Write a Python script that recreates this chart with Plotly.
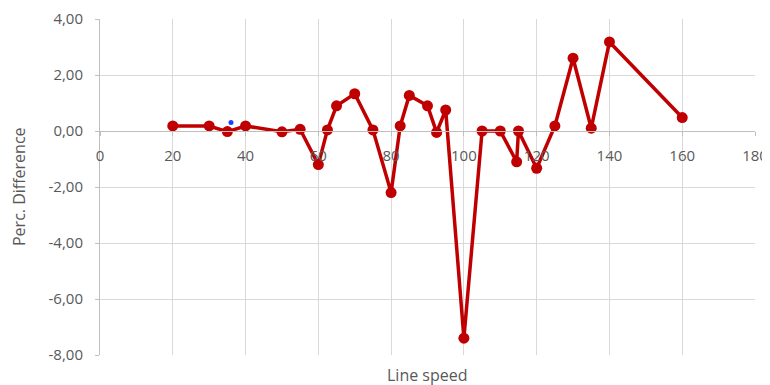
import plotly.graph_objects as go

line_speed = [20, 30, 35, 40, 50, 55, 60, 62.5, 65, 70, 75, 80, 82.5, 85, 90, 92.5, 95, 100,
              105, 110, 114.5, 115, 120, 125, 130, 135, 140, 160]
perc_diff = [0.18, 0.18, -0.02, 0.18, -0.03, 0.06, -1.2, 0.04, 0.9, 1.33, 0.04, -2.2, 0.18, 1.27,
             0.9, -0.05, 0.75, -7.4, 0.0, 0.0, -1.1, 0.0, -1.33, 0.18, 2.6, 0.1, 3.18, 0.48]
extra_x = [36]
extra_y = [0.3]

x_ticks = [0, 20, 40, 60, 80, 100, 120, 140, 160, 180]
y_ticks = [-8, -6, -4, -2, 0, 2, 4]
y_ticktext = ["-8,00", "-6,00", "-4,00", "-2,00", "0,00", "2,00", "4,00"]

font_color = "#595959"
fig = go.Figure()
fig.add_trace(go.Scatter(x=line_speed, y=perc_diff, mode="lines+markers",
                         line=dict(color="#C00000", width=3.5),
                         marker=dict(color="#C00000", size=11), showlegend=False))
fig.add_trace(go.Scatter(x=extra_x, y=extra_y, mode="markers",
                         marker=dict(color="#1f3fff", size=5), showlegend=False))

y0_frac = (0 - (-8)) / (4 - (-8))
fig.update_layout(
    width=762, height=377,
    margin=dict(l=92, r=15, t=11, b=30),
    plot_bgcolor="white", paper_bgcolor="white",
    font=dict(family="Open Sans", size=13, color=font_color),
    xaxis=dict(range=[0, 180], tickvals=x_ticks, ticktext=[str(v) for v in x_ticks],
               showgrid=True, gridcolor="#d9d9d9", gridwidth=1, automargin=False,
               anchor="free", position=y0_frac, showline=True, linecolor="#bfbfbf",
               linewidth=1, ticks="outside", ticklen=4, tickcolor="#bfbfbf",
               ticklabelstandoff=7, ticklabeloverflow="allow",
               zeroline=False, tickfont=dict(size=15, color=font_color)),
    yaxis=dict(range=[-8, 4], tickvals=y_ticks, ticktext=y_ticktext, automargin=False,
               showgrid=True, gridcolor="#d9d9d9", gridwidth=1,
               showline=True, linecolor="#bfbfbf", linewidth=1,
               ticks="outside", ticklen=4, tickcolor="#bfbfbf", zeroline=False,
               ticklabelstandoff=9, ticklabeloverflow="allow",
               tickfont=dict(size=15, color=font_color)),
)
fig.add_annotation(text="Perc. Difference", xref="paper", yref="paper", x=0, xshift=-81,
                   xanchor="center", yanchor="middle",
                   y=0.5, textangle=-90, showarrow=False,
                   font=dict(size=16, color=font_color))
fig.add_annotation(text="Line speed", xref="paper", yref="paper", x=0.5, y=0,
                   yshift=-20, yanchor="middle", showarrow=False,
                   font=dict(size=16, color=font_color))
fig.write_html("out.html")
